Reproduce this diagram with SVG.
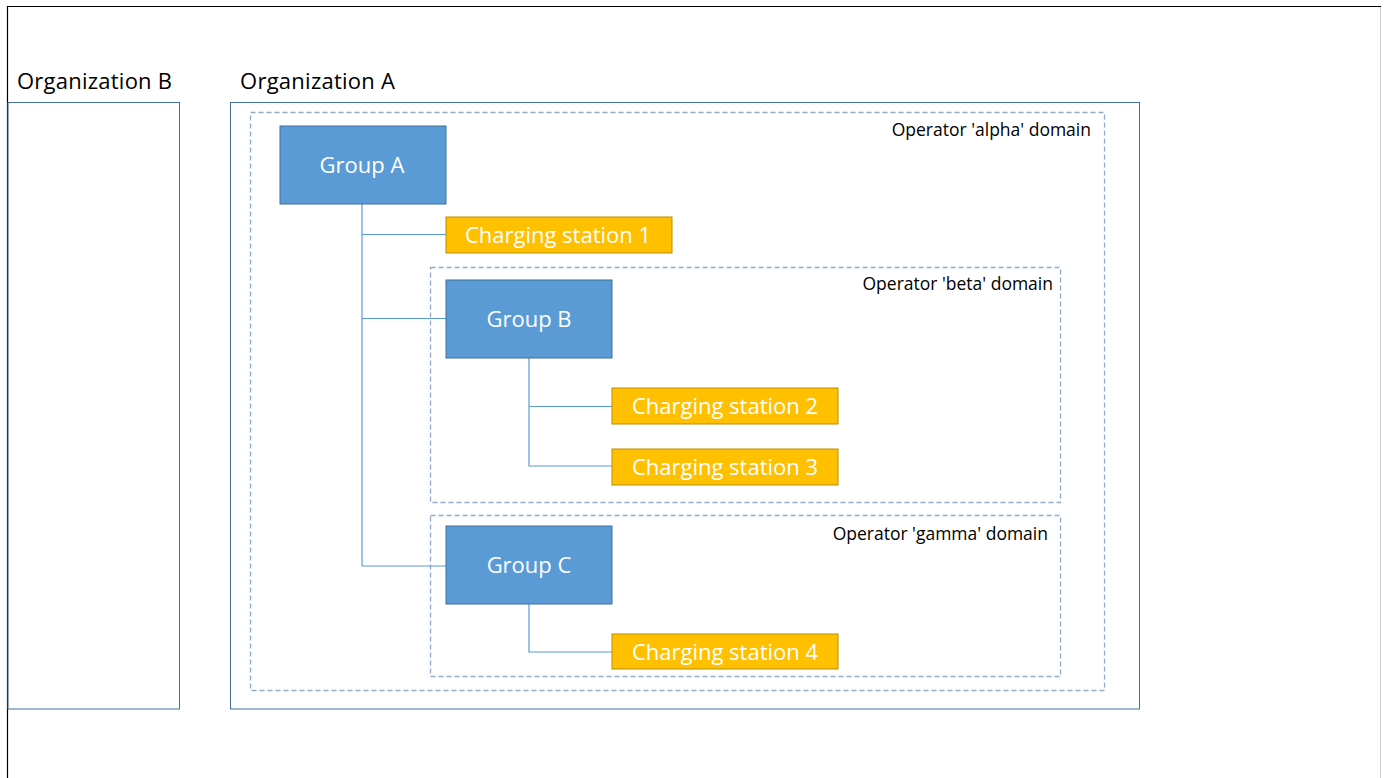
<svg xmlns="http://www.w3.org/2000/svg" width="1385" height="778" viewBox="0 0 1385 778">
<style>
.org{fill:none;stroke:#41719C;stroke-width:1}
.dom{fill:none;stroke:#8FAACB;stroke-width:1.3;stroke-dasharray:5 3}
.grp{fill:#5B9BD5;stroke:#41719C;stroke-width:1}
.cs{fill:#FFC000;stroke:#BC8C00;stroke-width:1}
.conn{fill:none;stroke:#5B9BD5;stroke-width:1.2}
.t{font-family:"Open Sans","Liberation Sans",sans-serif}
.wt{fill:#fff;font-size:22px;text-anchor:middle}
.ot{fill:#000;font-size:22px}
.dt{fill:#000;font-size:17.5px;text-anchor:end}
</style>
<rect width="1385" height="778" fill="#fff"/>
<g id="frame">
<line x1="7" y1="6.5" x2="1381" y2="6.5" stroke="#000" stroke-width="1.2"/>
<line x1="7.5" y1="6" x2="7.5" y2="778" stroke="#000" stroke-width="1.2"/>
<line x1="1380.5" y1="7" x2="1380.5" y2="778" stroke="#ccc" stroke-width="1"/>
</g>
<g id="orgB">
<rect class="org" x="8" y="102.5" width="171.5" height="606.5"/>
<text class="t ot" x="17" y="89" textLength="155">Organization B</text>
</g>
<g id="orgA">
<rect class="org" x="230.5" y="102.5" width="909" height="606.5"/>
<text class="t ot" x="240" y="89" textLength="155">Organization A</text>
</g>
<g id="alphaDomain">
<rect class="dom" x="250.5" y="112.5" width="854" height="578"/>
<text class="t dt" x="1091" y="136">Operator 'alpha' domain</text>
</g>
<g id="betaDomain">
<rect class="dom" x="430.5" y="267.5" width="630" height="235"/>
<text class="t dt" x="1053" y="290">Operator 'beta' domain</text>
</g>
<g id="gammaDomain">
<rect class="dom" x="430.5" y="515.5" width="630" height="161"/>
<text class="t dt" x="1048" y="540">Operator 'gamma' domain</text>
</g>
<g id="connectors">
<polyline class="conn" points="362,204 362,566 446,566"/>
<line class="conn" x1="362" y1="234.5" x2="446" y2="234.5"/>
<line class="conn" x1="362" y1="318.5" x2="446" y2="318.5"/>
<polyline class="conn" points="529,358 529,466 612,466"/>
<line class="conn" x1="529" y1="406.5" x2="612" y2="406.5"/>
<polyline class="conn" points="529,604 529,652 612,652"/>
</g>
<g id="groupA">
<rect class="grp" x="280" y="126" width="166" height="78"/>
<text class="t wt" x="362" y="173">Group A</text>
</g>
<g id="cs1">
<rect class="cs" x="446" y="217" width="226" height="36"/>
<text class="t wt" x="558" y="243">Charging station 1</text>
</g>
<g id="groupB">
<rect class="grp" x="446" y="280" width="166" height="78"/>
<text class="t wt" x="529" y="327">Group B</text>
</g>
<g id="cs2">
<rect class="cs" x="612" y="388" width="226" height="36"/>
<text class="t wt" x="725" y="414">Charging station 2</text>
</g>
<g id="cs3">
<rect class="cs" x="612" y="449" width="226" height="36"/>
<text class="t wt" x="725" y="475">Charging station 3</text>
</g>
<g id="groupC">
<rect class="grp" x="446" y="526" width="166" height="78"/>
<text class="t wt" x="529" y="573">Group C</text>
</g>
<g id="cs4">
<rect class="cs" x="612" y="634" width="226" height="35"/>
<text class="t wt" x="725" y="660">Charging station 4</text>
</g>
</svg>
